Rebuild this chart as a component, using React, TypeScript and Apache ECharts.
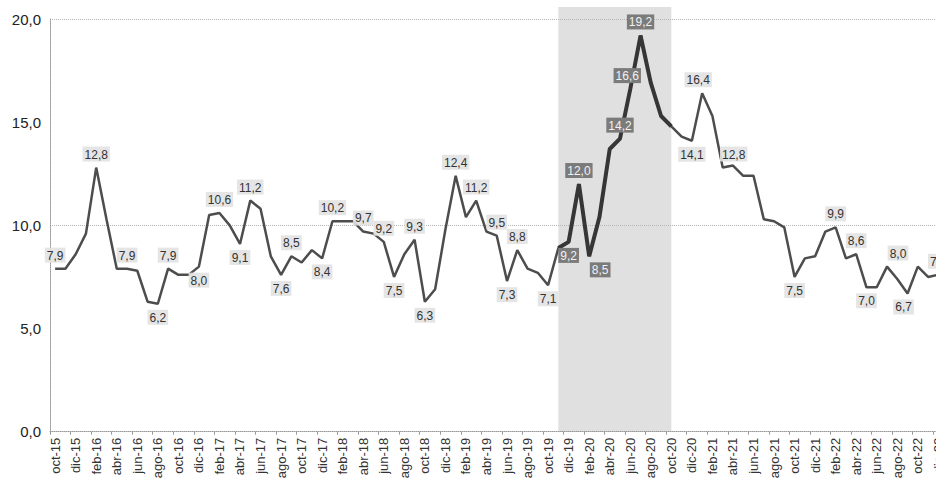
import React, { useEffect, useRef } from "react";
import * as echarts from "echarts";

const months = [
  "oct-15", "nov-15", "dic-15",
  "ene-16", "feb-16", "mar-16", "abr-16", "may-16", "jun-16", "jul-16", "ago-16", "sep-16", "oct-16", "nov-16", "dic-16",
  "ene-17", "feb-17", "mar-17", "abr-17", "may-17", "jun-17", "jul-17", "ago-17", "sep-17", "oct-17", "nov-17", "dic-17",
  "ene-18", "feb-18", "mar-18", "abr-18", "may-18", "jun-18", "jul-18", "ago-18", "sep-18", "oct-18", "nov-18", "dic-18",
  "ene-19", "feb-19", "mar-19", "abr-19", "may-19", "jun-19", "jul-19", "ago-19", "sep-19", "oct-19", "nov-19", "dic-19",
  "ene-20", "feb-20", "mar-20", "abr-20", "may-20", "jun-20", "jul-20", "ago-20", "sep-20", "oct-20", "nov-20", "dic-20",
  "ene-21", "feb-21", "mar-21", "abr-21", "may-21", "jun-21", "jul-21", "ago-21", "sep-21", "oct-21", "nov-21", "dic-21",
  "ene-22", "feb-22", "mar-22", "abr-22", "may-22", "jun-22", "jul-22", "ago-22", "sep-22", "oct-22", "nov-22", "dic-22",
];

const rate = [
  7.9, 7.9, 8.6,
  9.6, 12.8, 10.3, 7.9, 7.9, 7.8, 6.3, 6.2, 7.9, 7.6, 7.6, 8.0,
  10.5, 10.6, 10.0, 9.1, 11.2, 10.8, 8.5, 7.6, 8.5, 8.2, 8.8, 8.4,
  10.2, 10.2, 10.2, 9.7, 9.6, 9.2, 7.5, 8.6, 9.3, 6.3, 6.9, 9.8,
  12.4, 10.4, 11.2, 9.7, 9.5, 7.3, 8.8, 7.9, 7.7, 7.1, 8.9, 9.2,
  12.0, 8.5, 10.4, 13.7, 14.2, 16.6, 19.2, 16.9, 15.3, 14.8, 14.3, 14.1,
  16.4, 15.3, 12.8, 12.9, 12.4, 12.4, 10.3, 10.2, 9.9, 7.5, 8.4, 8.5,
  9.7, 9.9, 8.4, 8.6, 7.0, 7.0, 8.0, 7.4, 6.7, 8.0, 7.5, 7.6,
];

const yTicks = [0, 5, 10, 15, 20];

const highlightFrom = "nov-19";
const highlightTo = "oct-20";

const labelAbove = [0, 4, 7, 11, 16, 19, 23, 27, 30, 32, 35, 39, 41, 43, 45, 51, 55, 56, 57, 63, 65, 76, 78, 81, 86];
const labelBelow = [10, 14, 18, 22, 26, 33, 36, 44, 48, 50, 52, 62, 72, 79, 83];
const labelShift: Record<number, number[]> = { 52: [11, 0], 65: [11, 0], 81: [11, 0], 83: [-4, 0], 63: [-4, 0], 56: [-3, 0] };
const darkLabels = [50, 51, 52, 55, 56, 57];

const FONT = '"Liberation Sans", Arial, Helvetica, sans-serif';
const fmt = (v: number) => v.toFixed(1).replace(".", ",");

export default function App() {
  const ref = useRef<HTMLDivElement>(null);
  useEffect(() => {
    const chart = echarts.init(ref.current!, null, { renderer: "svg" });
    const iFrom = months.indexOf(highlightFrom);
    const iTo = months.indexOf(highlightTo);

    const labelFor = (i: number, dark: boolean) => {
      const pos = labelAbove.includes(i) ? "top" : labelBelow.includes(i) ? "bottom" : null;
      if (!pos) return null;
      return {
        show: true,
        position: pos,
        distance: 6,
        offset: labelShift[i] || [0, 0],
        fontSize: 12,
        fontFamily: FONT,
        color: dark ? "#f2f2f2" : "#333",
        backgroundColor: dark ? "#7b7b7b" : "rgba(226,226,226,0.9)",
        padding: [2, 2, 1, 2],
        formatter: (p: any) => fmt(Number(p.value)),
      };
    };

    const mainData = rate.map((v, i) => {
      if (darkLabels.includes(i)) return v;
      const l = labelFor(i, false);
      return l ? { value: v, label: l } : v;
    });
    const hiData = rate.map((v, i) => {
      if (i < iFrom || i > iTo) return null;
      if (darkLabels.includes(i)) {
        const l = labelFor(i, true);
        return l ? { value: v, label: l } : v;
      }
      return v;
    });

    chart.setOption({
      animation: false,
      backgroundColor: "#fff",
      grid: { left: 50, top: 19, bottom: 49.3, width: 893.5, outerBoundsMode: "none" },
      xAxis: {
        type: "category",
        data: months,
        boundaryGap: true,
        axisLine: { show: true, lineStyle: { color: "#999", type: "dotted", width: 1 } },
        axisTick: { show: true, interval: 1, length: 3, lineStyle: { color: "#999" } },
        axisLabel: { interval: 1, rotate: 90, fontSize: 13, fontFamily: FONT, color: "#333", margin: 6 },
        splitLine: { show: false },
      },
      yAxis: {
        type: "value",
        min: yTicks[0],
        max: yTicks[yTicks.length - 1],
        interval: 5,
        axisLine: { show: true, lineStyle: { color: "#999", type: "dotted", width: 1 } },
        axisTick: { show: false },
        axisLabel: { fontSize: 15, fontFamily: FONT, color: "#222", margin: 9, formatter: (v: number) => fmt(v) },
        splitLine: { show: true, lineStyle: { color: ["#b5b5b5", "rgba(0,0,0,0)"], type: "dotted", width: 1 } },
      },
      series: [
        {
          type: "line",
          data: mainData,
          symbol: "circle",
          symbolSize: 0.1,
          showSymbol: true,
          z: 3,
          lineStyle: { color: "#4d4d4d", width: 2.5 },
          itemStyle: { color: "#4d4d4d" },
          label: { show: false },
          emphasis: { disabled: true },
        },
        {
          type: "line",
          data: hiData,
          symbol: "circle",
          symbolSize: 0.1,
          showSymbol: true,
          z: 4,
          connectNulls: false,
          lineStyle: { color: "#363636", width: 4 },
          itemStyle: { color: "#363636" },
          label: { show: false },
          emphasis: { disabled: true },
        },
      ],
    });

    const x1 = chart.convertToPixel({ xAxisIndex: 0 }, highlightFrom) as number;
    const x2 = chart.convertToPixel({ xAxisIndex: 0 }, highlightTo) as number;
    const yb = chart.convertToPixel({ yAxisIndex: 0 }, yTicks[0]) as number;
    chart.setOption({
      graphic: [
        {
          type: "rect",
          z: -10,
          silent: true,
          shape: { x: x1, y: 7, width: x2 - x1, height: yb - 7 },
          style: { fill: "#e0e0e0" },
        },
      ],
    });

    return () => chart.dispose();
  }, []);
  return (
    <div style={{ position: "fixed", left: 0, top: 0, width: 936, height: 481, overflow: "hidden", background: "#fff" }}>
      <div ref={ref} style={{ width: 960, height: 481 }} />
    </div>
  );
}
